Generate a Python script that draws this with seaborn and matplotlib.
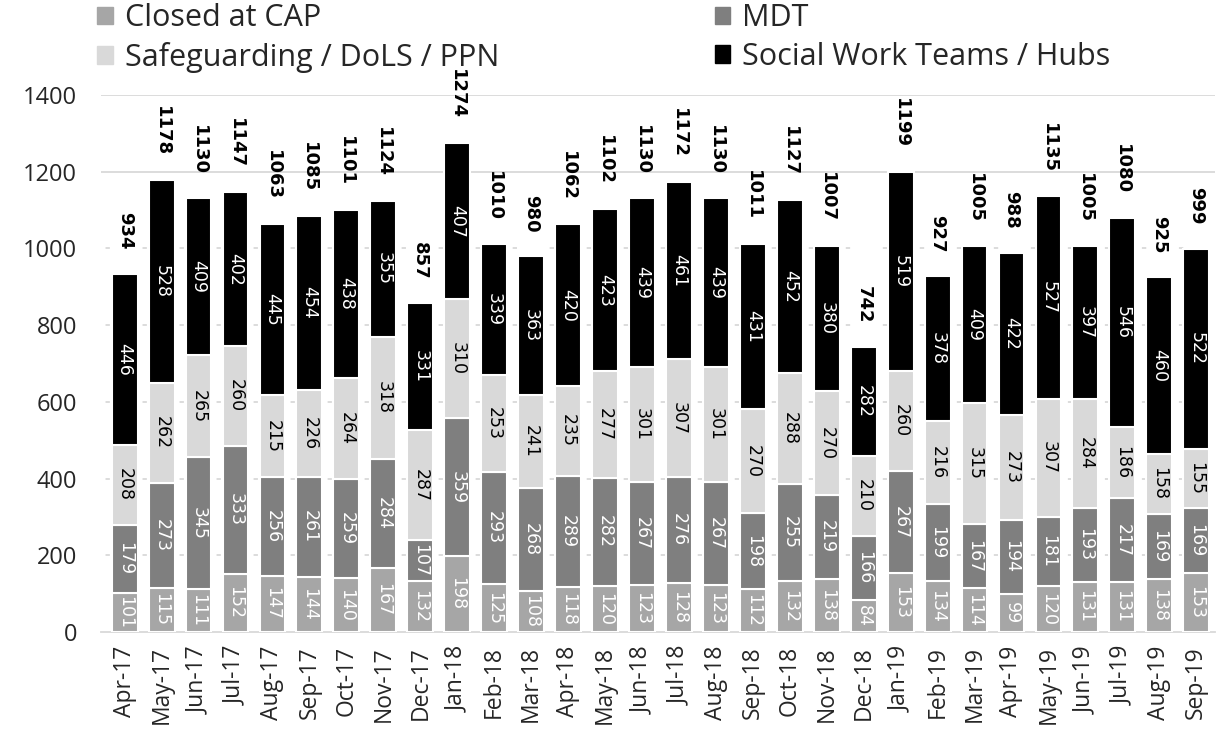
import numpy as np
import pandas as pd
import seaborn as sns
import matplotlib.pyplot as plt
from matplotlib.patches import Patch

months = ["Apr-17", "May-17", "Jun-17", "Jul-17", "Aug-17", "Sep-17", "Oct-17", "Nov-17", "Dec-17",
          "Jan-18", "Feb-18", "Mar-18", "Apr-18", "May-18", "Jun-18", "Jul-18", "Aug-18", "Sep-18",
          "Oct-18", "Nov-18", "Dec-18", "Jan-19", "Feb-19", "Mar-19", "Apr-19", "May-19", "Jun-19",
          "Jul-19", "Aug-19", "Sep-19"]

closed_cap = [101, 115, 111, 152, 147, 144, 140, 167, 132, 198, 125, 108, 118, 120, 123, 128, 123, 112,
              132, 138, 84, 153, 134, 114, 99, 120, 131, 131, 138, 153]
mdt = [179, 273, 345, 333, 256, 261, 259, 284, 107, 359, 293, 268, 289, 282, 267, 276, 267, 198,
       255, 219, 166, 267, 199, 167, 194, 181, 193, 217, 169, 169]
safeguarding = [208, 262, 265, 260, 215, 226, 264, 318, 287, 310, 253, 241, 235, 277, 301, 307, 301, 270,
                288, 270, 210, 260, 216, 315, 273, 307, 284, 186, 158, 155]
social_work = [446, 528, 409, 402, 445, 454, 438, 355, 331, 407, 339, 363, 420, 423, 439, 461, 439, 431,
               452, 380, 282, 519, 378, 409, 422, 527, 397, 546, 460, 522]

series = [
    ("Closed at CAP", closed_cap, "#a6a6a6", "white"),
    ("MDT", mdt, "#7f7f7f", "white"),
    ("Safeguarding / DoLS / PPN", safeguarding, "#d9d9d9", "black"),
    ("Social Work Teams / Hubs", social_work, "#000000", "white"),
]
y_ticks = [0, 200, 400, 600, 800, 1000, 1200, 1400]

sns.set_style("white")
plt.rcParams["font.family"] = ["DejaVu Sans"]
ui_font = "Open Sans"

fig = plt.figure(figsize=(12.27, 7.29), dpi=100)
ax = fig.add_axes([0.082, 0.133, 0.908, 0.737])

bottom = np.zeros(len(months))
for name, vals, col, tcol in series:
    vals = np.array(vals)
    sns.barplot(x=months, y=vals, bottom=bottom, color=col, width=0.7,
                edgecolor="white", linewidth=1.5, ax=ax, zorder=3)
    for i, v in enumerate(vals):
        ax.text(i, bottom[i] + v / 2, str(v), rotation=270, ha="center", va="center",
                fontsize=12.5, color=tcol, zorder=4)
    bottom = bottom + vals

# totals above each stack
for i, t in enumerate(bottom):
    ax.text(i, t + 62, str(int(t)), rotation=270, ha="center", va="bottom",
            fontsize=13, fontweight="bold", color="black", zorder=4)

ax.set_ylim(0, 1400)
ax.set_xlim(-0.65, 29.45)

# gridlines: top two solid, lower ones sparse dashes (as in the original)
for yv in y_ticks[1:]:
    if yv >= 1200:
        ax.axhline(yv, color="#d9d9d9", linewidth=1.3, zorder=0)
    else:
        ax.axhline(yv, color="#d9d9d9", linewidth=1.3, zorder=0,
                   linestyle=(18.0, (2.4, 18.1)))

ax.set_yticks(y_ticks)
ax.set_yticklabels([str(v) for v in y_ticks], fontsize=17, family=ui_font)
ax.tick_params(axis="y", length=0, pad=17)
ax.set_xticks(range(len(months)))
ax.set_xticklabels(months, rotation=90, fontsize=16.5, family=ui_font)
ax.set_xticks(np.arange(-0.5, len(months), 1), minor=True)
ax.tick_params(axis="x", which="major", length=0, pad=10)
ax.tick_params(axis="x", which="minor", length=6, color="#d9d9d9", width=1.3)
for s in ["left", "right", "top"]:
    ax.spines[s].set_visible(False)
ax.spines["bottom"].set_color("#d9d9d9")
ax.spines["bottom"].set_linewidth(1.3)
ax.set_xlabel("")
ax.set_ylabel("")

handles = [Patch(color=c) for _, _, c, _ in series]
labels = [n for n, _, _, _ in series]
order = [0, 2, 1, 3]
fig.legend([handles[i] for i in order], [labels[i] for i in order], ncol=2,
           loc="upper left", bbox_to_anchor=(0.062, 1.025), frameon=False,
           prop={"family": ui_font, "size": 22},
           handlelength=0.5, handleheight=0.5, handletextpad=0.4, columnspacing=7.05,
           labelspacing=0.28, borderpad=0.2)

fig.savefig("out.png", dpi=100)
